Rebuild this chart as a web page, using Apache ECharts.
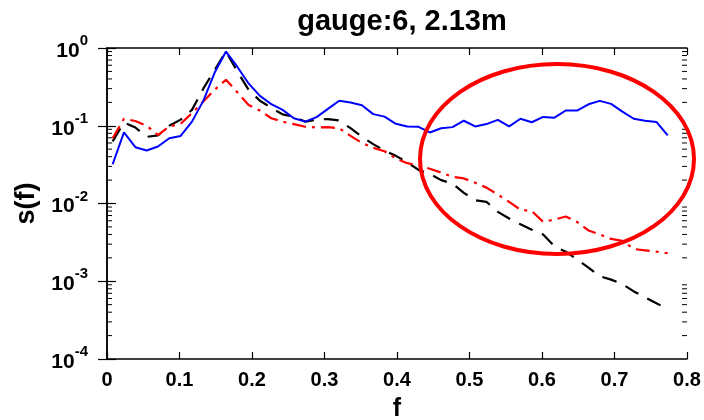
<!DOCTYPE html>
<html>
<head>
<meta charset="utf-8">
<script src="https://cdn.jsdelivr.net/npm/echarts@6.0.0/dist/echarts.min.js"></script>
<style>
  html, body { margin: 0; padding: 0; background: #fff; }
  #chart { width: 704px; height: 420px; }
</style>
</head>
<body>
<div id="chart"></div>
<script>
  // frequency bins
  const freq = [0.0078, 0.0234, 0.0391, 0.0547, 0.0703, 0.0859, 0.1016, 0.1172, 0.1328, 0.1484,
    0.1641, 0.1797, 0.1953, 0.2109, 0.2266, 0.2422, 0.2578, 0.2734, 0.2891, 0.3047,
    0.3203, 0.3359, 0.3516, 0.3672, 0.3828, 0.3984, 0.4141, 0.4297, 0.4453, 0.4609,
    0.4766, 0.4922, 0.5078, 0.5234, 0.5391, 0.5547, 0.5703, 0.5859, 0.6016, 0.6172,
    0.6328, 0.6484, 0.6641, 0.6797, 0.6953, 0.7109, 0.7266, 0.7422, 0.7578, 0.7734]

  // blue solid
  const blueS = [0.032, 0.082, 0.053, 0.048, 0.054, 0.069, 0.074, 0.113, 0.209, 0.48,
    0.90, 0.575, 0.35, 0.242, 0.19, 0.16, 0.125, 0.113, 0.129, 0.165,
    0.21, 0.199, 0.184, 0.141, 0.131, 0.106, 0.098, 0.097, 0.082, 0.093,
    0.096, 0.116, 0.098, 0.105, 0.119, 0.098, 0.123, 0.111, 0.130, 0.127,
    0.157, 0.157, 0.189, 0.209, 0.191, 0.152, 0.123, 0.116, 0.112, 0.075]

  // red dash-dot
  const redS = [0.069, 0.123, 0.115, 0.100, 0.076, 0.098, 0.106, 0.145, 0.205, 0.29,
    0.39, 0.27, 0.185, 0.157, 0.125, 0.113, 0.105, 0.097, 0.095, 0.096,
    0.093, 0.074, 0.060, 0.052, 0.047, 0.038, 0.033, 0.031, 0.028, 0.025,
    0.022, 0.021, 0.0185, 0.016, 0.013, 0.0105, 0.0083, 0.0080, 0.0058, 0.0062,
    0.0068, 0.0058, 0.0045, 0.0040, 0.0035, 0.0033, 0.0026, 0.0025, 0.0024, 0.0023]

  // black dashed
  const blackS = [0.063, 0.11, 0.095, 0.072, 0.075, 0.10, 0.12, 0.16, 0.30, 0.52,
    0.90, 0.50, 0.29, 0.21, 0.17, 0.14, 0.13, 0.113, 0.12, 0.122,
    0.117, 0.093, 0.072, 0.058, 0.048, 0.041, 0.034, 0.027, 0.024, 0.020,
    0.018, 0.0137, 0.011, 0.0105, 0.0078, 0.0064, 0.0054, 0.0046, 0.0040, 0.0028,
    0.0024, 0.0019, 0.0015, 0.00116, 0.00105, 0.00092, 0.00074, 0.00062, 0.00052, 0.00044]

  // minor ticks of the log axis (2..9 in each decade)
  const minorTicks = []
  ;[1e-4, 1e-3, 1e-2, 1e-1].forEach(d => {
    for (let m = 2; m <= 9; m++) minorTicks.push([0, m * d])
  })

  const font = 'Liberation Sans, Arial, sans-serif'
  const pair = (ys) => freq.map((f, i) => [f, ys[i]])

  const chart = echarts.init(document.getElementById('chart'))
  chart.setOption({
    animation: false,
    title: {
      text: 'gauge:6, 2.13m',
      left: 397,
      textAlign: 'center',
      top: 2,
      textStyle: { fontFamily: font, fontSize: 29, fontWeight: 'bold', color: '#000' }
    },
    grid: { left: 107, right: 17, top: 48, bottom: 61, outerBoundsMode: 'none' },
    xAxis: [{
      type: 'value',
      min: 0, max: 0.8, interval: 0.1,
      name: 'f',
      nameLocation: 'middle',
      nameGap: 38,
      nameTextStyle: { fontFamily: font, fontSize: 25, fontWeight: 'bold', color: '#000' },
      axisLine: { lineStyle: { color: '#000', width: 1.5 } },
      axisTick: { inside: true, length: 7, lineStyle: { color: '#000', width: 1.2 } },
      axisLabel: { fontFamily: font, fontSize: 20, fontWeight: 'bold', color: '#000', margin: 11 },
      splitLine: { show: false }
    }, {
      type: 'value',
      position: 'top',
      min: 0, max: 0.8, interval: 0.1,
      axisLine: { lineStyle: { color: '#000', width: 1.5 } },
      axisTick: { inside: true, length: 7, lineStyle: { color: '#000', width: 1.2 } },
      axisLabel: { show: false },
      splitLine: { show: false }
    }],
    yAxis: [{
      type: 'log',
      logBase: 10,
      min: 0.0001, max: 1,
      name: 's(f)',
      nameLocation: 'middle',
      nameGap: 60,
      nameRotate: 90,
      nameTextStyle: { fontFamily: font, fontSize: 27, fontWeight: 'bold', color: '#000' },
      axisLine: { lineStyle: { color: '#000', width: 1.5 } },
      axisTick: { inside: true, length: 9, lineStyle: { color: '#000', width: 1.2 } },
      axisLabel: {
        margin: 19,
        formatter: v => '{b|10}{s|' + Math.round(Math.log10(v)) + '}',
        rich: {
          b: { fontFamily: font, fontSize: 21, fontWeight: 'bold', color: '#000', padding: [6, 0, 0, 0] },
          s: { fontFamily: font, fontSize: 15, fontWeight: 'bold', color: '#000', padding: [0, 0, 14, 0] }
        }
      },
      splitLine: { show: false }
    }, {
      type: 'log',
      logBase: 10,
      position: 'right',
      min: 0.0001, max: 1,
      axisLine: { lineStyle: { color: '#000', width: 1.5 } },
      axisTick: { inside: true, length: 9, lineStyle: { color: '#000', width: 1.2 } },
      axisLabel: { show: false },
      splitLine: { show: false }
    }],
    series: [{
      type: 'custom',
      silent: true,
      clip: false,
      data: minorTicks,
      renderItem: (params, api) => {
        const y = api.coord([0, api.value(1)])[1]
        const cs = params.coordSys
        const x0 = cs.x, x1 = cs.x + cs.width
        const st = { stroke: '#000', lineWidth: 1 }
        return {
          type: 'group',
          children: [
            { type: 'line', shape: { x1: x0, y1: y, x2: x0 + 5, y2: y }, style: st },
            { type: 'line', shape: { x1: x1 - 5, y1: y, x2: x1, y2: y }, style: st }
          ]
        }
      }
    }, {
      name: 'black',
      type: 'line',
      data: pair(blackS),
      showSymbol: false,
      lineStyle: { color: '#000', width: 2.2, type: [15, 10] }
    }, {
      name: 'red',
      type: 'line',
      data: pair(redS),
      showSymbol: false,
      lineStyle: { color: '#ff0000', width: 2.2, type: [14, 6, 3, 6] }
    }, {
      name: 'blue',
      type: 'line',
      data: pair(blueS),
      showSymbol: false,
      lineStyle: { color: '#0000ff', width: 2 }
    }],
    graphic: [{
      type: 'ellipse',
      shape: { cx: 557, cy: 159, rx: 137, ry: 95 },
      style: { fill: 'none', stroke: '#ff0000', lineWidth: 4 },
      z: 100
    }]
  })
</script>
</body>
</html>
